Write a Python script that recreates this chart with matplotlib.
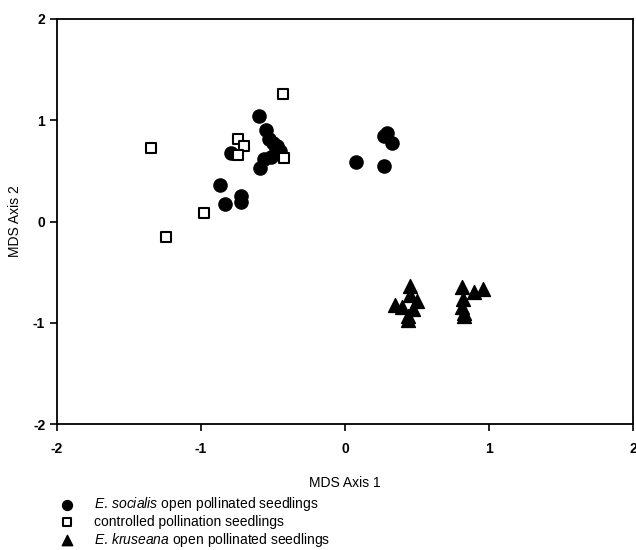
import matplotlib
matplotlib.use("Agg")
import matplotlib.pyplot as plt

plt.rcParams['font.family'] = ['Liberation Sans', 'DejaVu Sans']
plt.rcParams['mathtext.fontset'] = 'custom'
plt.rcParams['mathtext.it'] = 'Liberation Sans:italic'
plt.rcParams['mathtext.rm'] = 'Liberation Sans'
plt.rcParams['axes.unicode_minus'] = False

# E. socialis open pollinated seedlings
soc_x = [-0.60, -0.55, -0.50, -0.48, -0.53, -0.79, -0.56, -0.59, -0.51, -0.47, -0.45,
         -0.87, -0.83, -0.72, -0.72, 0.08, 0.27, 0.29, 0.33, 0.27]
soc_y = [1.04, 0.90, 0.78, 0.73, 0.81, 0.68, 0.62, 0.53, 0.64, 0.75, 0.70,
         0.36, 0.17, 0.25, 0.19, 0.59, 0.84, 0.87, 0.78, 0.55]

# controlled pollination seedlings
ctl_x = [-0.43, -1.35, -0.74, -0.70, -0.74, -0.42, -0.98, -1.24]
ctl_y = [1.26, 0.73, 0.81, 0.75, 0.66, 0.63, 0.08, -0.15]

# E. kruseana open pollinated seedlings
kru_x = [0.45, 0.45, 0.35, 0.40, 0.50, 0.47, 0.44, 0.44,
         0.81, 0.90, 0.96, 0.82, 0.81, 0.83, 0.83]
kru_y = [-0.64, -0.73, -0.82, -0.84, -0.78, -0.86, -0.97, -0.93,
         -0.65, -0.70, -0.67, -0.77, -0.84, -0.90, -0.93]

fig = plt.figure(figsize=(6.36, 5.5), dpi=100)
ax = fig.add_axes([0.0896, 0.229, 0.9054, 0.7365])

ax.scatter(soc_x, soc_y, s=90, marker='o', c='black', edgecolors='black',
           label=r"$\it{E.\,socialis}$ open pollinated seedlings", zorder=3)
ax.scatter(ctl_x, ctl_y, s=55, marker='s', c='white', edgecolors='black', linewidths=1.5,
           label="controlled pollination seedlings", zorder=4)
ax.scatter(kru_x, kru_y, s=100, marker='^', c='black', edgecolors='black',
           label=r"$\it{E.\,kruseana}$ open pollinated seedlings", zorder=3)

ax.set_xlim(-2, 2)
ax.set_ylim(-2, 2)
ax.set_xticks([-2, -1, 0, 1, 2])
ax.set_yticks([-2, -1, 0, 1, 2])
ax.tick_params(direction='out', length=5, width=1.2, labelsize=10)
ax.tick_params(axis='x', pad=8)
for lab in ax.get_xticklabels() + ax.get_yticklabels():
    lab.set_fontweight('bold')
for sp in ax.spines.values():
    sp.set_linewidth(1.3)

ax.set_xlabel("MDS Axis 1", fontsize=10, labelpad=14)
ax.set_ylabel("MDS Axis 2", fontsize=10, labelpad=8)

fig.legend(loc='upper left', bbox_to_anchor=(0.085, 0.112), frameon=False,
           fontsize=10, handletextpad=1.6, labelspacing=0.12, borderpad=0,
           handlelength=0.8, markerscale=0.75)

fig.savefig("out.png", dpi=100)
